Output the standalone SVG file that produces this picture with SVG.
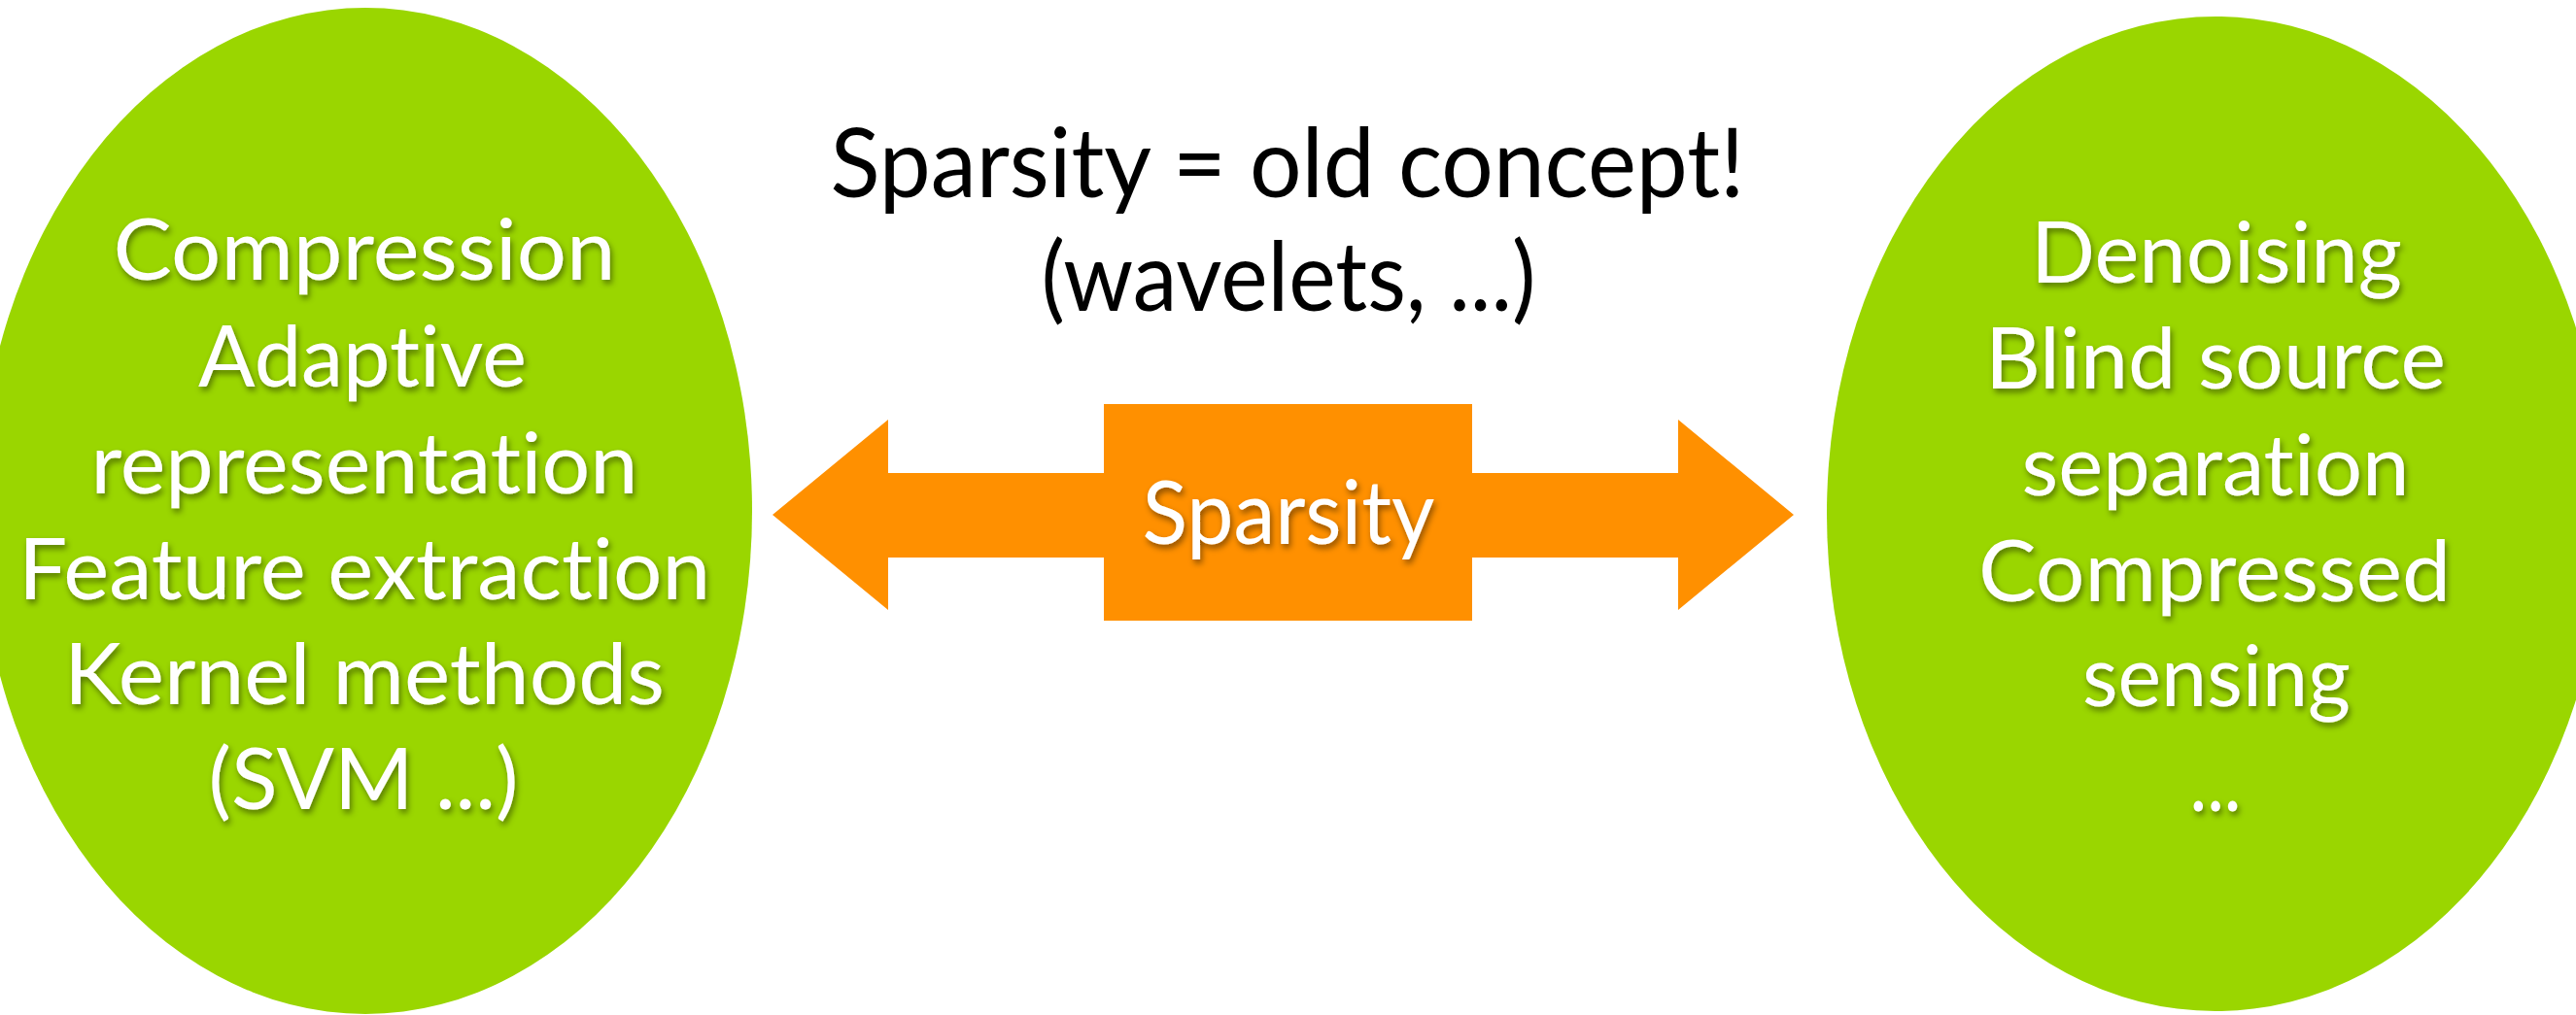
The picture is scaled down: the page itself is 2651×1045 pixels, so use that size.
<svg xmlns="http://www.w3.org/2000/svg" width="2651" height="1045" viewBox="0 0 2651 1045">
  <defs>
    <filter id="shadow" x="-10%" y="-10%" width="120%" height="130%">
      <feDropShadow dx="2" dy="4" stdDeviation="3" flood-color="#000" flood-opacity="0.45"/>
    </filter>
  </defs>
  <style>
    .ell { fill: #9AD600; }
    .orange { fill: #FF9000; }
    text { font-variant-ligatures: none; font-feature-settings: "liga" 0, "clig" 0; }
    .wt { font-family: Lato, "Open Sans", "Liberation Sans", sans-serif; fill: #FFFFFF; text-anchor: middle; filter: url(#shadow); }
    .el { font-size: 88px; }
    .bt { font-family: Lato, "Open Sans", "Liberation Sans", sans-serif; fill: #000000; text-anchor: middle; font-size: 98px; }
  </style>
  <rect width="2651" height="1045" fill="#FFFFFF"/>

  <g id="connectors">
    <polygon class="orange" points="795,530 914,432 914,487 1727,487 1727,432 1846,530 1727,628 1727,574 914,574 914,628"/>
  </g>

  <g id="left-node">
    <ellipse class="ell" cx="376" cy="526" rx="398" ry="518"/>
    <text class="wt el" x="375" y="288" textLength="517" lengthAdjust="spacingAndGlyphs">Compression</text>
    <text class="wt el" x="373" y="398" textLength="338" lengthAdjust="spacingAndGlyphs">Adaptive</text>
    <text class="wt el" x="375" y="508" textLength="563" lengthAdjust="spacingAndGlyphs">representation</text>
    <text class="wt el" x="375" y="617" textLength="712" lengthAdjust="spacingAndGlyphs">Feature extraction</text>
    <text class="wt el" x="375" y="725" textLength="618" lengthAdjust="spacingAndGlyphs">Kernel methods</text>
    <text class="wt el" x="374" y="833" textLength="319" lengthAdjust="spacingAndGlyphs">(SVM ...)</text>
  </g>

  <g id="right-node">
    <ellipse class="ell" cx="2280" cy="529" rx="400" ry="512"/>
    <text class="wt el" x="2281" y="291" textLength="382" lengthAdjust="spacingAndGlyphs">Denoising</text>
    <text class="wt el" x="2280" y="400" textLength="474" lengthAdjust="spacingAndGlyphs">Blind source</text>
    <text class="wt el" x="2280" y="510" textLength="399" lengthAdjust="spacingAndGlyphs">separation</text>
    <text class="wt el" x="2279" y="619" textLength="486" lengthAdjust="spacingAndGlyphs">Compressed</text>
    <text class="wt el" x="2281" y="727" textLength="276" lengthAdjust="spacingAndGlyphs">sensing</text>
    <text class="wt el" x="2280" y="835" textLength="53" lengthAdjust="spacingAndGlyphs">...</text>
  </g>

  <g id="center-node">
    <rect class="orange" x="1136" y="416" width="379" height="223"/>
    <text class="wt" x="1326" y="560" font-size="92" textLength="301" lengthAdjust="spacingAndGlyphs">Sparsity</text>
  </g>

  <g id="title">
    <text class="bt" x="1325" y="203" textLength="941" lengthAdjust="spacingAndGlyphs">Sparsity = old concept!</text>
    <text class="bt" x="1326" y="320" textLength="509" lengthAdjust="spacingAndGlyphs">(wavelets, ...)</text>
  </g>
</svg>
